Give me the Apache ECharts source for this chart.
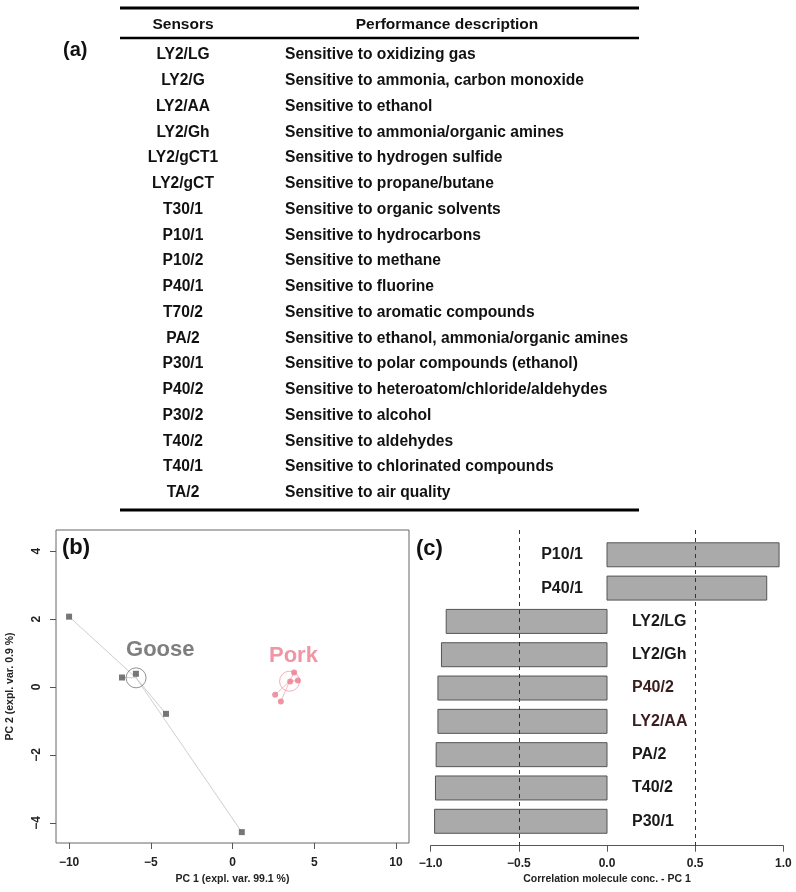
<!DOCTYPE html>
<html><head><meta charset="utf-8">
<script src="https://cdn.jsdelivr.net/npm/echarts@6/dist/echarts.min.js"></script>
<style>html,body{margin:0;padding:0;background:#fff}#c{width:796px;height:892px}</style>
</head><body><div id="c"></div>
<script>
// ---- (a) table data ----
const tableHeaders = ['Sensors', 'Performance description'];
const sensors = ['LY2/LG','LY2/G','LY2/AA','LY2/Gh','LY2/gCT1','LY2/gCT','T30/1','P10/1','P10/2','P40/1','T70/2','PA/2','P30/1','P40/2','P30/2','T40/2','T40/1','TA/2'];
const descriptions = [
  'Sensitive to oxidizing gas',
  'Sensitive to ammonia, carbon monoxide',
  'Sensitive to ethanol',
  'Sensitive to ammonia/organic amines',
  'Sensitive to hydrogen sulfide',
  'Sensitive to propane/butane',
  'Sensitive to organic solvents',
  'Sensitive to hydrocarbons',
  'Sensitive to methane',
  'Sensitive to fluorine',
  'Sensitive to aromatic compounds',
  'Sensitive to ethanol, ammonia/organic amines',
  'Sensitive to polar compounds (ethanol)',
  'Sensitive to heteroatom/chloride/aldehydes',
  'Sensitive to alcohol',
  'Sensitive to aldehydes',
  'Sensitive to chlorinated compounds',
  'Sensitive to air quality'
];

// ---- (b) PCA scores ----
const gooseX = [-10.0, -6.76, -5.91, -4.07, 0.57];
const gooseY = [2.07, 0.28, 0.39, -0.79, -4.27];
const porkX = [3.77, 3.53, 4.00, 2.61, 2.96];
const porkY = [0.43, 0.16, 0.19, -0.23, -0.43];
const groupNames = ['Goose', 'Pork'];
const centroidX = [-5.90, 3.49];
const centroidY = [0.27, 0.17];
const groupLabelX = [-4.42, 3.73];
const groupLabelY = [1.09, 0.92];
const pc1Ticks = [-10, -5, 0, 5, 10];
const pc2Ticks = [-4, -2, 0, 2, 4];

// ---- (c) correlation bars ----
const barSensors = ['P10/1','P40/1','LY2/LG','LY2/Gh','P40/2','LY2/AA','PA/2','T40/2','P30/1'];
const barValues = [0.976, 0.906, -0.912, -0.939, -0.959, -0.959, -0.969, -0.973, -0.978];
const corrTicks = [-1.0, -0.5, 0.0, 0.5, 1.0];
const dashedRefs = [-0.5, 0.5];

const FONT = '"Liberation Sans", Arial, sans-serif';
const GOOSE = '#555555';
const PORK = '#ec7a8d';
const minus = v => String(v).replace('-', '\u2212');
const labelColors = {'P40/2': '#3a1d1d', 'LY2/AA': '#3a1d1d'};

// table graphics
const graphics = [];
const tL = 120, tR = 639, sensCX = 183, descX = 285, headY = 25, row0 = 55, rowH = 25.75;
graphics.push({type:'line', shape:{x1:tL, y1:8, x2:tR, y2:8}, style:{stroke:'#000', lineWidth:3}});
graphics.push({type:'line', shape:{x1:tL, y1:38, x2:tR, y2:38}, style:{stroke:'#000', lineWidth:2.5}});
graphics.push({type:'line', shape:{x1:tL, y1:510, x2:tR, y2:510}, style:{stroke:'#000', lineWidth:3}});
function txt(t, x, y, size, align, color) {
  return {type:'text', x:x, y:y, style:{text:t, font:'bold ' + size + 'px ' + FONT, fill:color || '#111',
    align:align, verticalAlign:'middle', textAlign:align, textVerticalAlign:'middle'}};
}
graphics.push(txt(tableHeaders[0], sensCX, headY, 15.5, 'center'));
graphics.push(txt(tableHeaders[1], 447, headY, 15.5, 'center'));
sensors.forEach((s, i) => {
  graphics.push(txt(s, sensCX, row0 + i * rowH, 15.6, 'center'));
  graphics.push(txt(descriptions[i], descX, row0 + i * rowH, 15.6, 'left'));
});
graphics.push(txt('(a)', 63, 50, 20, 'left'));
graphics.push(txt('(b)', 62, 548, 22, 'left'));
graphics.push(txt('(c)', 416, 549, 22, 'left'));

// star lines
const starLines = [];
gooseX.forEach((x, i) => starLines.push({coords:[[centroidX[0], centroidY[0]], [x, gooseY[i]]], lineStyle:{color:'#cfcfcf'}}));
porkX.forEach((x, i) => starLines.push({coords:[[centroidX[1], centroidY[1]], [x, porkY[i]]], lineStyle:{color:'#f5b9c3'}}));

const chart = echarts.init(document.getElementById('c'), null, {renderer:'canvas'});
chart.setOption({
  backgroundColor:'#fff',
  animation:false,
  graphic: graphics,
  grid:[
    {left:56, right:387, top:530, bottom:49, show:true, borderColor:'#666', borderWidth:1, backgroundColor:'transparent'},
    {left:430.7, right:12.7, top:530, bottom:46.3}
  ],
  xAxis:[
    {gridIndex:0, type:'value', min:-10.8, max:10.8,
      name:'PC 1 (expl. var. 99.1 %)', nameLocation:'middle', nameGap:31,
      nameTextStyle:{fontFamily:FONT, fontWeight:'bold', fontSize:10.5, color:'#222'},
      axisLine:{show:false, onZero:false}, splitLine:{show:false},
      axisTick:{show:true, customValues:pc1Ticks, length:6, lineStyle:{color:'#555'}},
      axisLabel:{customValues:pc1Ticks, formatter:minus, margin:14, fontFamily:FONT, fontWeight:'bold', fontSize:12, color:'#222'}},
    {gridIndex:1, type:'value', min:-1, max:1, interval:0.5,
      name:'Correlation molecule conc. - PC 1', nameLocation:'middle', nameGap:28,
      nameTextStyle:{fontFamily:FONT, fontWeight:'bold', fontSize:10.5, color:'#222'},
      axisLine:{show:true, onZero:false, lineStyle:{color:'#555'}}, splitLine:{show:false},
      axisTick:{show:true, length:6, lineStyle:{color:'#555'}},
      axisLabel:{formatter:v => minus(v.toFixed(1)), margin:12, fontFamily:FONT, fontWeight:'bold', fontSize:12, color:'#222', showMinLabel:true, showMaxLabel:true}}
  ],
  yAxis:[
    {gridIndex:0, type:'value', min:-4.59, max:4.62,
      name:'PC 2 (expl. var. 0.9 %)', nameLocation:'middle', nameGap:40, nameRotate:90,
      nameTextStyle:{fontFamily:FONT, fontWeight:'bold', fontSize:10.5, color:'#222'},
      axisLine:{show:false, onZero:false}, splitLine:{show:false},
      axisTick:{show:true, customValues:pc2Ticks, length:6, lineStyle:{color:'#555'}},
      axisLabel:{customValues:pc2Ticks, formatter:minus, rotate:90, margin:13, fontFamily:FONT, fontWeight:'bold', fontSize:12, color:'#222'}},
    {gridIndex:1, type:'value', min:-0.744, max:8.733, inverse:true, show:false, axisLine:{onZero:false}, splitLine:{show:false}}
  ],
  series:[
    {type:'lines', coordinateSystem:'cartesian2d', xAxisIndex:0, yAxisIndex:0, silent:true,
      lineStyle:{width:1, opacity:1}, data:starLines, z:1},
    {type:'scatter', xAxisIndex:0, yAxisIndex:0, symbol:'rect', symbolSize:6,
      itemStyle:{color:GOOSE}, data:gooseX.map((x, i) => [x, gooseY[i]]), z:3},
    {type:'scatter', xAxisIndex:0, yAxisIndex:0, symbol:'circle', symbolSize:6,
      itemStyle:{color:PORK}, data:porkX.map((x, i) => [x, porkY[i]]), z:3},
    {type:'scatter', xAxisIndex:0, yAxisIndex:0, symbol:'circle', symbolSize:20,
      itemStyle:{color:'transparent', borderWidth:1},
      data:centroidX.map((x, i) => ({value:[x, centroidY[i]], itemStyle:{borderColor: i === 0 ? '#777' : '#f29aa8'}})), z:2},
    {type:'scatter', xAxisIndex:0, yAxisIndex:0, symbolSize:1, itemStyle:{color:'transparent'},
      data:groupLabelX.map((x, i) => ({value:[x, groupLabelY[i]], label:{show:true, position:'inside',
        formatter:groupNames[i], fontFamily:FONT, fontWeight:'bold', fontSize:22, color: i === 0 ? '#5e5e5e' : PORK}})), z:4},
    {type:'custom', xAxisIndex:1, yAxisIndex:1,
      data:barValues.map((v, i) => [v, i]),
      encode:{x:0, y:1},
      renderItem:function(params, api) {
        const v = api.value(0), idx = api.value(1);
        const p0 = api.coord([0, idx]), p1 = api.coord([v, idx]);
        const h = api.size([0, 1])[1] * 0.72;
        const name = barSensors[params.dataIndex];
        return {type:'group', children:[
          {type:'rect', shape:{x:Math.min(p0[0], p1[0]), y:p0[1] - h / 2, width:Math.abs(p1[0] - p0[0]), height:h},
            style:{fill:'#aaaaaa', stroke:'#555', lineWidth:1}},
          {type:'text', x: v >= 0 ? p0[0] - 24 : p0[0] + 25, y:p0[1],
            style:{text:name, font:'bold 16px ' + FONT, fill:labelColors[name] || '#1a1a1a',
              align: v >= 0 ? 'right' : 'left', verticalAlign:'middle'}}
        ]};
      }, z:2},
    {type:'line', xAxisIndex:1, yAxisIndex:1, data:[], z:3,
      markLine:{silent:true, symbol:'none', label:{show:false},
        lineStyle:{type:[4, 4], color:'#333', width:1},
        data:dashedRefs.map(v => ({xAxis:v}))}}
  ]
});
</script></body></html>
